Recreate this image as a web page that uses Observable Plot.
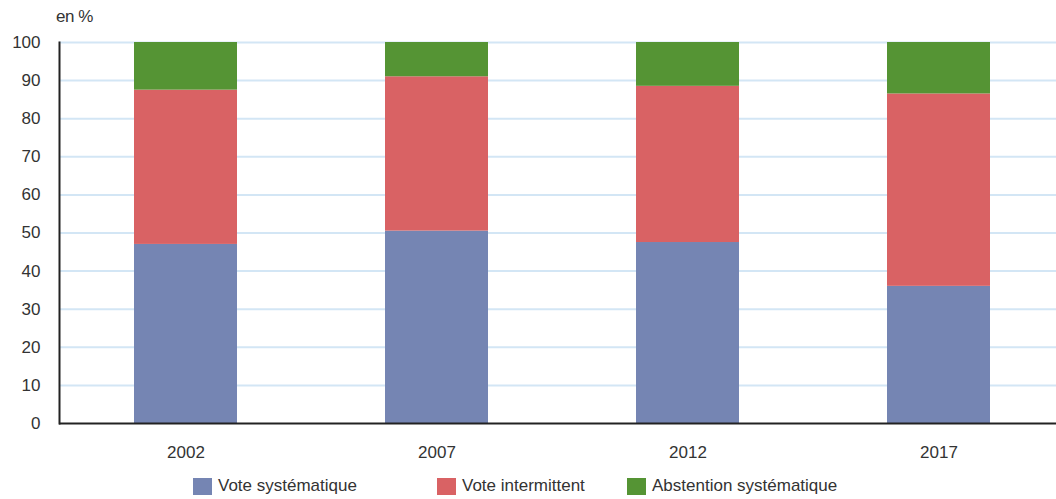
<!DOCTYPE html>
<html>
<head>
<meta charset="utf-8">
<script src="https://cdn.jsdelivr.net/npm/d3@7"></script>
<script src="https://cdn.jsdelivr.net/npm/@observablehq/plot@0.6"></script>
<style>
  html, body { margin: 0; padding: 0; background: #fff; overflow: hidden; }
  #wrap { position: relative; width: 1056px; height: 499px; font-family: "Liberation Sans Narrow", "Liberation Sans", Arial, sans-serif; color: #333; }
  #unit { position: absolute; left: 56px; top: 7px; font-size: 17px; letter-spacing: -0.5px; }
  #legend { position: absolute; top: 476px; left: 0; width: 1056px; height: 20px; font-size: 17px; }
  .item { position: absolute; top: 0; display: flex; align-items: center; }
  .sw { width: 19px; height: 17px; margin-right: 6px; }
</style>
</head>
<body>
<div id="wrap">
  <div id="chart"></div>
  <div id="unit">en %</div>
  <div id="legend"></div>
</div>
<script>
const years = ["2002", "2007", "2012", "2017"];
const series = ["Vote systématique", "Vote intermittent", "Abstention systématique"];
const voteSystematique = [47, 50.5, 47.5, 36];
const voteIntermittent = [40.5, 40.5, 41, 50.5];
const abstentionSystematique = [12.5, 9, 11.5, 13.5];
const colors = ["#7585b3", "#d96264", "#559434"];
const yTicks = [0, 10, 20, 30, 40, 50, 60, 70, 80, 90, 100];
const legendX = [193, 437, 627];

const valuesBySeries = [voteSystematique, voteIntermittent, abstentionSystematique];
const data = [];
series.forEach((s, si) => years.forEach((y, yi) => data.push({year: y, serie: s, value: valuesBySeries[si][yi]})));

const chart = Plot.plot({
  width: 1056,
  height: 470,
  marginLeft: 59,
  marginRight: 0,
  marginTop: 42,
  marginBottom: 47,
  style: { fontFamily: "'Liberation Sans Narrow', 'Liberation Sans', Arial, sans-serif", fontSize: "17px", color: "#333", background: "#fff" },
  x: { domain: years, range: [59, 1065], paddingInner: 0.59, paddingOuter: 0.295, align: 0.5, label: null },
  y: { domain: [0, 100], label: null },
  color: { domain: series, range: colors },
  marks: [
    Plot.ruleY(yTicks.filter(d => d > 0), { stroke: "#d3e6f5", strokeWidth: 2 }),
    Plot.barY(data, { x: "year", y: "value", fill: "serie" }),
    Plot.axisY(yTicks, { tickSize: 0, tickPadding: 19, fill: "#333" }),
    Plot.axisX({ tickSize: 0, tickPadding: 22, fill: "#333" }),
    Plot.frame({ anchor: "left", stroke: "#222", strokeWidth: 2 }),
    Plot.ruleY([0], { stroke: "#222", strokeWidth: 2 })
  ]
});
document.getElementById("chart").appendChild(chart);

const legend = document.getElementById("legend");
series.forEach((s, i) => {
  const it = document.createElement("div");
  it.className = "item";
  it.style.left = legendX[i] + "px";
  const sw = document.createElement("div");
  sw.className = "sw";
  sw.style.background = colors[i];
  const tx = document.createElement("span");
  tx.textContent = s;
  it.appendChild(sw);
  it.appendChild(tx);
  legend.appendChild(it);
});
</script>
</body>
</html>
